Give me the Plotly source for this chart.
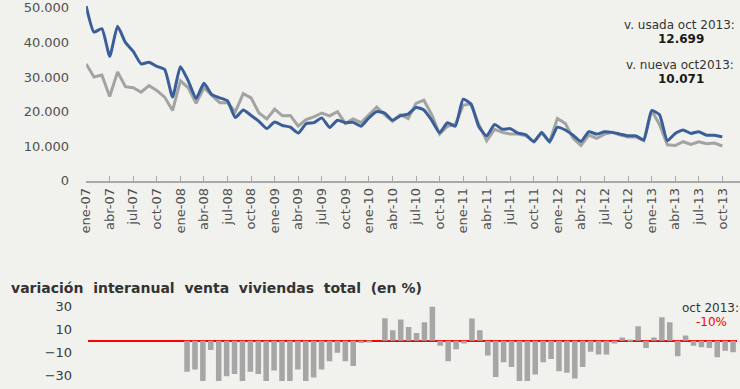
import plotly.graph_objects as go

# ---------------- data ----------------
MONTH_ABBR = ["ene", "feb", "mar", "abr", "may", "jun", "jul", "ago", "sep", "oct", "nov", "dic"]
months = [f"{m}-{y:02d}" for y in range(7, 14) for m in MONTH_ABBR][:82]  # ene-07 .. oct-13

tick_labels = ["ene-07", "abr-07", "jul-07", "oct-07", "ene-08", "abr-08", "jul-08", "oct-08",
               "ene-09", "abr-09", "jul-09", "oct-09", "ene-10", "abr-10", "jul-10", "oct-10",
               "ene-11", "abr-11", "jul-11", "oct-11", "ene-12", "abr-12", "jul-12", "oct-12",
               "ene-13", "abr-13", "jul-13", "oct-13"]

# vivienda usada (blue), units
usada = [50500, 43000, 44000, 36000, 44700, 40000, 37400, 33800, 34300, 33100, 32200, 24200,
         33000, 28900, 23800, 28200, 24900, 24000, 23100, 18300, 20500, 18900, 17200, 15100,
         17000, 16000, 15500, 13800, 16500, 16800, 18200, 15400, 17500, 16800, 16900, 15800,
         18200, 20000, 19600, 17500, 18800, 19300, 21200, 20500, 17500, 13900, 16800, 15800,
         23600, 22200, 15600, 13000, 16300, 14900, 15100, 13800, 13300, 11300, 14000, 11300,
         15500, 14700, 13200, 11400, 14200, 13500, 14200, 14000, 13500, 13000, 13000, 11800,
         20300, 19100, 11600, 13700, 14700, 13700, 14200, 13200, 13200, 12699]

# vivienda nueva (grey), units
nueva = [33800, 30000, 30600, 24400, 31500, 27200, 26900, 25600, 27500, 26100, 24200, 20300,
         28900, 26900, 22400, 26900, 24700, 22600, 22600, 20000, 25200, 24000, 19600, 17900,
         20700, 18800, 18900, 15800, 17700, 18500, 19600, 18800, 20000, 16600, 17900, 16800,
         19100, 21300, 19100, 17200, 19100, 18000, 22400, 23300, 19100, 13500, 15800, 16300,
         21900, 22200, 16300, 11600, 14900, 14000, 13500, 13500, 13000, 11300, 13800, 11300,
         18000, 16600, 12300, 10200, 13200, 12300, 13500, 14000, 13200, 12700, 12700, 11600,
         20300, 16300, 10400, 10200, 11300, 10500, 11300, 10700, 10900, 10071]

# variación interanual venta viviendas total (%), ene-08 .. oct-13
var_months = months[12:]
variacion = [-27, -25, -40, -8, -35, -31, -29, -40, -27, -29, -39, -26,
             -41, -38, -25, -40, -32, -25, -18, -10.5, -18, -22, -2, -1.5,
             0, 19.5, 9, 18.4, 12, 6.7, 16, 29.5, -4.4, -18, -7.5, -2.4,
             19.2, 9, -13, -31.5, -18.7, -23, -38, -40, -29.5, -18.7, -16, -26.5,
             -28, -33, -23, -9.6, -12, -12, -2.5, 2.7, 0.3, 12.6, -6.4, 2.7,
             20.3, 16, -13.5, 4.5, -4.4, -5.8, -6.4, -14.4, -8.7, -10]

top_yticks = [0, 10000, 20000, 30000, 40000, 50000]
bottom_yticks = [-30, -10, 10, 30]

# ---------------- figure ----------------
W, H = 740, 389
BG = "#f1f2ed"
FONT = "DejaVu Sans"
TXT = "#505050"

def py(px):
    return (H - px) / H

fig = go.Figure()

fig.add_trace(go.Scatter(x=months, y=nueva, mode="lines", name="v. nueva",
                         line=dict(color="#a3a3a3", width=3), xaxis="x", yaxis="y",
                         hoverinfo="skip"))
fig.add_trace(go.Scatter(x=months, y=usada, mode="lines", name="v. usada",
                         line=dict(color="#3a5e9a", width=3, shape="spline", smoothing=0.5),
                         xaxis="x", yaxis="y", hoverinfo="skip"))
fig.add_trace(go.Bar(x=var_months, y=variacion, marker=dict(color="#a6a6a6", line=dict(width=0)),
                     xaxis="x2", yaxis="y2", hoverinfo="skip"))

fig.update_layout(
    width=W, height=H,
    margin=dict(l=0, r=0, t=0, b=0),
    paper_bgcolor=BG, plot_bgcolor=BG,
    showlegend=False,
    separators=",.",
    bargap=0.3,
    font=dict(family=FONT, size=13, color=TXT),
    xaxis=dict(
        type="category", categoryorder="array", categoryarray=months,
        domain=[79 / W, 1.0], range=[0, 661 / 7.94],
        tickmode="array", tickvals=tick_labels, ticktext=tick_labels,
        tickangle=-90, tickfont=dict(size=13, color=TXT),
        showline=True, linecolor="#a9a9a9", linewidth=2,
        ticks="inside", ticklen=5, tickcolor="#a9a9a9", tickwidth=1,
        showgrid=False, zeroline=False, anchor="y", ticklabeloverflow="allow",
    ),
    yaxis=dict(
        domain=[py(183), 1.0], range=[0, 183 / 3.56 * 1000],
        tickmode="array", tickvals=top_yticks, tickformat=",d",
        tickfont=dict(size=13, color=TXT),
        showgrid=False, zeroline=False, showline=False, ticks="",
        ticklabelstandoff=16, anchor="x", ticklabeloverflow="allow",
    ),
    xaxis2=dict(
        type="category", categoryorder="array", categoryarray=months,
        domain=[81 / W, 737 / W], range=[-0.5, 81.5],
        showticklabels=False, showline=False, showgrid=False, zeroline=False,
        ticks="", anchor="y2",
    ),
    yaxis2=dict(
        domain=[0, py(300)], range=[-(389 - 347.5) / 1.1833, (347.5 - 300) / 1.1833],
        tickmode="array", tickvals=bottom_yticks,
        tickfont=dict(size=13, color="#3a3a3a"),
        showgrid=False, showline=False, ticks="",
        zeroline=True, zerolinecolor="#ff0000", zerolinewidth=2,
        ticklabelstandoff=15, anchor="x2", ticklabeloverflow="allow",
    ),
)

NB = "\u00a0"
title_text = f"variación{NB} interanual{NB} venta{NB} viviendas{NB} total{NB} (en %)"

ann = []
ann.append(dict(text="v. usada oct 2013:", x=679 / W, y=py(23), xref="paper", yref="paper",
                showarrow=False, font=dict(size=12, color="#333333"), xanchor="center", yanchor="middle"))
ann.append(dict(text="<b>12.699</b>", x=680 / W, y=py(37.5), xref="paper", yref="paper",
                showarrow=False, font=dict(size=12, color="#1a1a1a"), xanchor="center", yanchor="middle"))
ann.append(dict(text="v. nueva oct2013:", x=679 / W, y=py(64), xref="paper", yref="paper",
                showarrow=False, font=dict(size=12, color="#333333"), xanchor="center", yanchor="middle"))
ann.append(dict(text="<b>10.071</b>", x=680 / W, y=py(78.5), xref="paper", yref="paper",
                showarrow=False, font=dict(size=12, color="#1a1a1a"), xanchor="center", yanchor="middle"))
ann.append(dict(text=f"<b>{title_text}</b>", x=1 / W, y=py(293),
                xref="paper", yref="paper", showarrow=False, font=dict(size=14, color="#333333"),
                xanchor="left", yanchor="middle"))
ann.append(dict(text="oct 2013:", x=710 / W, y=py(313.5), xref="paper", yref="paper",
                showarrow=False, font=dict(size=12, color="#333333"), xanchor="center", yanchor="middle"))
ann.append(dict(text="-10%", x=711 / W, y=py(328), xref="paper", yref="paper",
                showarrow=False, font=dict(size=12, color="#ff0000"), xanchor="center", yanchor="middle"))
fig.update_layout(annotations=ann)

post = (
    "document.documentElement.style.margin='0';"
    "document.body.style.margin='0';document.body.style.overflow='hidden';"
    "document.body.style.background='" + BG + "';"
    "var gd=document.getElementById('{plot_id}');"
    "Plotly.relayout(gd,{width:window.innerWidth,height:window.innerHeight});"
)
fig.write_html("out.html", config={"displayModeBar": False}, post_script=post)
